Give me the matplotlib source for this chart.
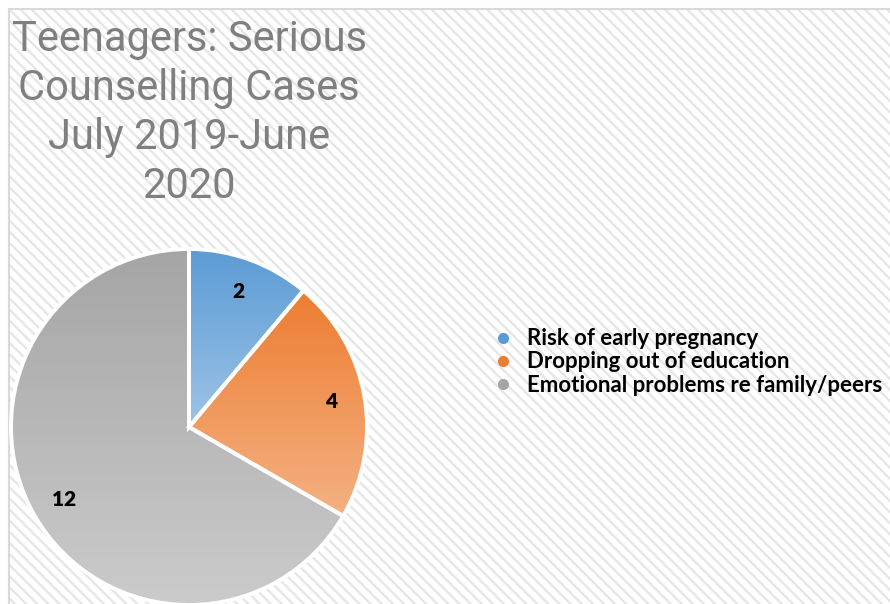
import numpy as np
import matplotlib.pyplot as plt
from matplotlib.patches import Rectangle
from matplotlib.lines import Line2D
from matplotlib.colors import LinearSegmentedColormap

# data
categories = ['Risk of early pregnancy', 'Dropping out of education',
              'Emotional problems re family/peers']
cases = [2, 4, 12]
top_colors = ['#5b9bd5', '#ed7d31', '#a5a5a5']
bottom_colors = ['#9dc3e6', '#f4b183', '#cbcbcb']
title = 'Teenagers: Serious\nCounselling Cases\nJuly 2019-June\n2020'

W, H = 890, 604
fig = plt.figure(figsize=(W / 100, H / 100), dpi=100)
ax = fig.add_axes([0, 0, 1, 1])

# hatched chart area
plt.rcParams['hatch.linewidth'] = 1.6
bg = Rectangle((8, -2), W, H - 8 + 2, facecolor='white', edgecolor='#e5e5e5',
               hatch='\\\\\\', linewidth=0, zorder=0)
ax.add_patch(bg)
ax.plot([9, 9, W], [0, H - 9, H - 9], color='#d9d9d9', lw=1.5, zorder=1)

total = sum(cases)
wedges, texts, autotexts = ax.pie(
    cases, center=(189, 177), radius=178, startangle=90, counterclock=False,
    colors=top_colors, wedgeprops=dict(edgecolor='white', linewidth=2.8),
    autopct=lambda p: '{:d}'.format(int(round(p * total / 100))),
    pctdistance=0.81, frame=True,
    textprops=dict(fontsize=15, fontweight='heavy', color='black',
                   family=['Lato', 'DejaVu Sans']))
ax.set_xlim(0, W)
ax.set_ylim(0, H)
ax.set_aspect('auto')
ax.axis('off')

# gradient fill inside each wedge
for w, c1, c2 in zip(wedges, top_colors, bottom_colors):
    ext = w.get_path().get_extents()
    cmap = LinearSegmentedColormap.from_list('g', [c2, c1])
    grad = np.linspace(0, 1, 256).reshape(-1, 1)
    im = ax.imshow(grad, cmap=cmap, origin='lower', aspect='auto',
                   extent=[ext.x0, ext.x1, ext.y0, ext.y1], zorder=w.get_zorder())
    im.set_clip_path(w)
    w.set_facecolor('none')
    w.set_zorder(w.get_zorder() + 0.5)
for t in autotexts:
    t.set_zorder(5)

ax.text(189, H - 113, title, ha='center', va='center', fontsize=30,
        color='#7f7f7f', linespacing=1.25, family=['Roboto', 'DejaVu Sans'])

handles = [Line2D([], [], marker='o', ls='none', markersize=8,
                  markerfacecolor=c, markeredgecolor='none') for c in top_colors]
leg = ax.legend(handles, categories, loc='center left',
                bbox_to_anchor=(470 / W, 1 - 362 / H), frameon=False,
                handletextpad=0.45, labelspacing=0.1, handlelength=1.2,
                prop=dict(family=['Lato', 'DejaVu Sans'], weight='bold', size=16))

fig.savefig('out.png', dpi=100)
